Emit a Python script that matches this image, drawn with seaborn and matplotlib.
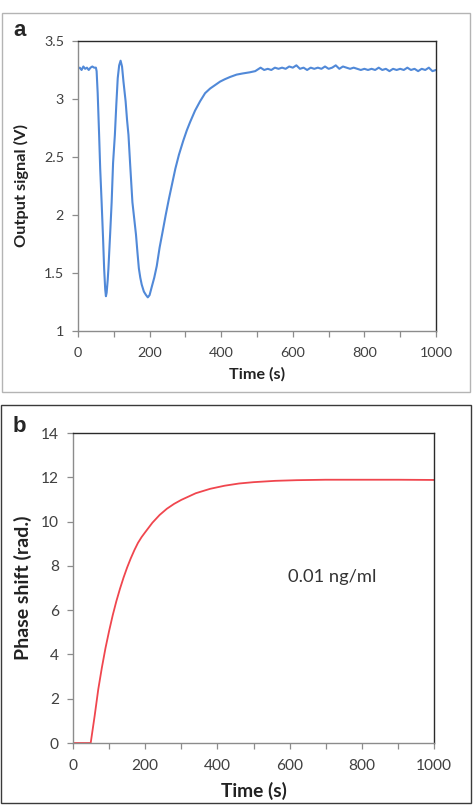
import matplotlib
matplotlib.use("Agg")
import matplotlib.pyplot as plt
import seaborn as sns
from matplotlib.patches import Rectangle
from matplotlib.ticker import MultipleLocator

# ---------------- data ----------------
time_a = [0, 5, 10, 15, 20, 25, 30, 35, 40, 45, 50,
          52, 55, 59, 62, 66, 70, 73, 76, 78, 80, 83, 85, 90, 94, 98, 103, 107, 111, 115, 119,
          123, 127, 133, 137, 141, 146, 152, 157, 162, 166, 170, 174, 178, 184, 190, 195, 200,
          206, 213, 220, 228, 236, 245, 254, 263, 272, 282, 294, 304, 313, 327, 341, 355, 369,
          383, 397, 410, 425, 443, 460, 480, 495,
          500, 510, 520, 530, 540, 550, 560, 570, 580, 590, 600, 610, 620, 630, 640, 650, 660,
          670, 680, 690, 700, 710, 720, 730, 740, 750, 760, 770, 780, 790, 800, 810, 820, 830,
          840, 850, 860, 870, 880, 890, 900, 910, 920, 930, 940, 950, 960, 970, 980, 990, 1000]
signal_a = [3.26, 3.27, 3.25, 3.28, 3.26, 3.27, 3.25, 3.27, 3.28, 3.27, 3.27,
            3.24, 3.05, 2.69, 2.40, 2.11, 1.80, 1.54, 1.36, 1.30, 1.33, 1.44, 1.54, 1.85, 2.11, 2.45,
            2.69, 2.95, 3.18, 3.29, 3.33,
            3.28, 3.15, 2.98, 2.82, 2.69, 2.42, 2.11, 1.97, 1.83, 1.68, 1.54, 1.46, 1.40, 1.34, 1.31,
            1.29, 1.31,
            1.38, 1.46, 1.56, 1.72, 1.85, 2.00, 2.14, 2.27, 2.40, 2.52, 2.64, 2.73, 2.80, 2.90, 2.98,
            3.05, 3.09, 3.12, 3.15, 3.17, 3.19, 3.21, 3.22, 3.23, 3.24,
            3.25, 3.27, 3.25, 3.26, 3.25, 3.27, 3.26, 3.27, 3.26, 3.28, 3.27, 3.29, 3.26, 3.27, 3.25,
            3.27, 3.26, 3.27, 3.26, 3.28, 3.26, 3.27, 3.29, 3.26, 3.28, 3.27, 3.26, 3.27, 3.26, 3.25,
            3.26, 3.25, 3.26, 3.25, 3.27, 3.25, 3.26, 3.24, 3.26, 3.25, 3.26, 3.25, 3.27, 3.25, 3.26,
            3.24, 3.26, 3.25, 3.27, 3.24, 3.25]

time_b = [0, 10, 20, 30, 40, 49, 60, 70, 80, 90, 100, 110, 120, 130, 140, 150, 160, 170, 180,
          190, 200, 220, 240, 260, 280, 300, 340, 380, 420, 460, 500, 560, 620, 700, 800, 900, 1000]
phase_b = [0.0, 0.0, 0.0, 0.0, 0.0, 0.0, 1.23, 2.43, 3.41, 4.29, 5.06, 5.77, 6.40, 6.96, 7.47,
           7.93, 8.34, 8.71, 9.04, 9.30, 9.52, 9.95, 10.30, 10.58, 10.80, 10.98, 11.28, 11.48,
           11.62, 11.72, 11.78, 11.84, 11.87, 11.89, 11.89, 11.89, 11.88]

yticks_a = [1, 1.5, 2, 2.5, 3, 3.5]
yticklabels_a = ["1", "1.5", "2", "2.5", "3", "3.5"]
yticks_b = [0, 2, 4, 6, 8, 10, 12, 14]
xticks = [0, 200, 400, 600, 800, 1000]

# ---------------- style ----------------
sns.set_style("white")
plt.rcParams["font.family"] = ["Lato", "DejaVu Sans"]

fig = plt.figure(figsize=(4.75, 8.05), dpi=100)

# outer panel frames
fig.patches.append(Rectangle((0.0042, 0.513), 0.985, 0.4708, transform=fig.transFigure,
                             fill=False, edgecolor="#b4b4b4", linewidth=1.0))
fig.patches.append(Rectangle((0.0021, 0.0025), 0.9895, 0.4944, transform=fig.transFigure,
                             fill=False, edgecolor="#3a3a3a", linewidth=1.0))

ax_a = fig.add_axes([0.1642, 0.5888, 0.7537, 0.3603])
ax_b = fig.add_axes([0.1537, 0.0770, 0.7600, 0.3851])

sns.lineplot(x=time_a, y=signal_a, ax=ax_a, color="#5189d8", linewidth=1.5,
             estimator=None, sort=False)
sns.lineplot(x=time_b, y=phase_b, ax=ax_b, color="#f0464e", linewidth=1.3,
             estimator=None, sort=False)

lab_col = "#404040"
for ax, tsize in ((ax_a, 10.4), (ax_b, 11.2)):
    ax.set_xlim(0, 1000)
    ax.set_xticks(xticks)
    ax.set_xticklabels([str(v) for v in xticks])
    ax.xaxis.set_minor_locator(MultipleLocator(100))
    ax.tick_params(axis="both", which="both", direction="out", length=4.3, width=0.9,
                   color="#8c8c8c", labelcolor=lab_col, labelsize=tsize)
    ax.tick_params(axis="x", which="both", bottom=True, pad=7.5)
    ax.tick_params(axis="y", which="major", left=True, pad=5.8)
    for s in ("left", "bottom"):
        ax.spines[s].set_color("#8c8c8c")
        ax.spines[s].set_linewidth(1.0)
    for s in ("top", "right"):
        ax.spines[s].set_color("#2a2a2a")
        ax.spines[s].set_linewidth(1.0)

ax_a.set_ylim(1, 3.5)
ax_a.set_yticks(yticks_a)
ax_a.set_yticklabels(yticklabels_a)
ax_a.set_xlabel("Time (s)", fontsize=11.6, fontweight="bold", color="#222222")
ax_a.set_ylabel("Output signal (V)", fontsize=11.8, fontweight="bold", color="#222222")
ax_a.xaxis.set_label_coords(0.5, -0.124)
ax_a.yaxis.set_label_coords(-0.137, 0.5)

ax_b.set_ylim(0, 14)
ax_b.set_yticks(yticks_b)
ax_b.set_yticklabels([str(v) for v in yticks_b])
ax_b.set_xlabel("Time (s)", fontsize=13.8, fontweight="bold", color="#222222")
ax_b.set_ylabel("Phase shift (rad.)", fontsize=14, fontweight="bold", color="#222222")
ax_b.xaxis.set_label_coords(0.5, -0.125)
ax_b.yaxis.set_label_coords(-0.114, 0.5)
ax_b.text(717, 7.5, "0.01 ng/ml", fontsize=13.2, color="#333333", ha="center", va="center")

fig.text(0.041, 0.962, "a", fontsize=16, fontweight="bold", family=["Liberation Sans"],
         ha="center", va="center")
fig.text(0.041, 0.4705, "b", fontsize=16, fontweight="bold", family=["Liberation Sans"],
         ha="center", va="center")

fig.savefig("out.png", dpi=100)
